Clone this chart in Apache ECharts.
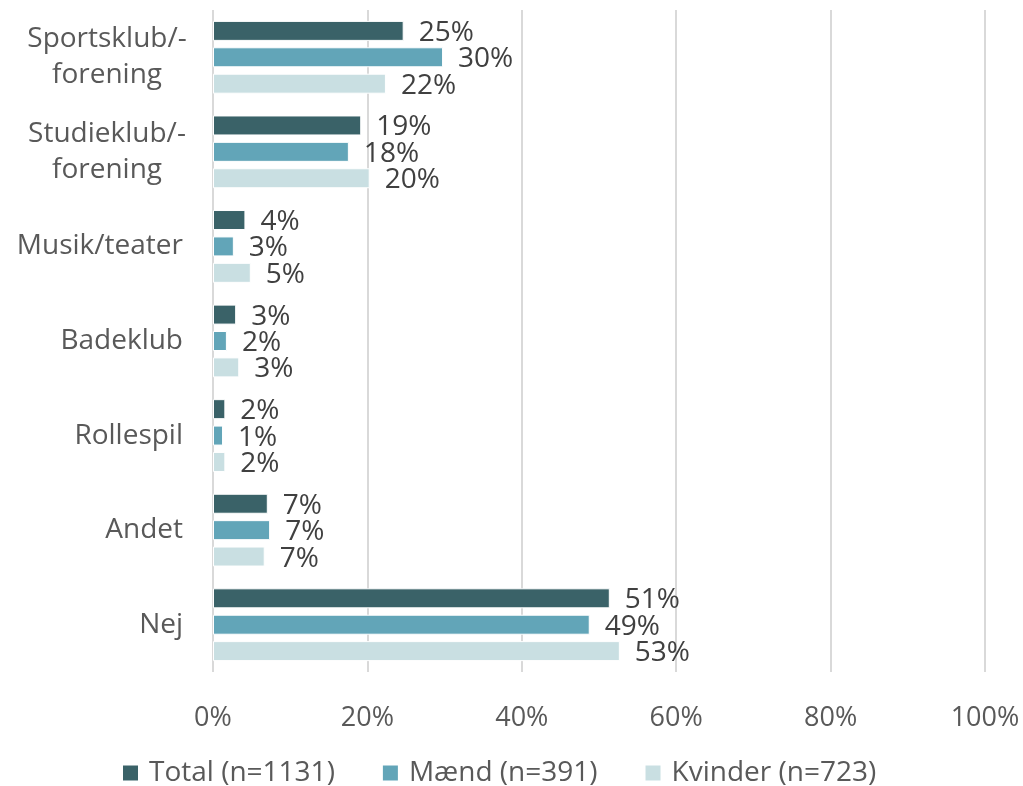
<!DOCTYPE html>
<html>
<head>
<meta charset="utf-8">
<script src="https://cdn.jsdelivr.net/npm/echarts@6/dist/echarts.min.js"></script>
<style>
  html, body { margin: 0; padding: 0; background: #fff; }
  #chart { width: 1023px; height: 786px; }
</style>
</head>
<body>
<div id="chart"></div>
<script>
// kategorier, oppefra og ned
const categories = ['Sportsklub/-\nforening', 'Studieklub/-\nforening', 'Musik/teater', 'Badeklub', 'Rollespil', 'Andet', 'Nej']
const seriesNames = ['Total (n=1131)', 'Mænd (n=391)', 'Kvinder (n=723)']
const total = [24.7, 19.2, 4.2, 3.0, 1.6, 7.1, 51.4]
const maend = [29.8, 17.6, 2.7, 1.8, 1.3, 7.4, 48.8]
const kvinder = [22.4, 20.3, 4.9, 3.4, 1.6, 6.7, 52.7]
const colors = ['#3a6268', '#62a5b8', '#c9dfe2']

const font = 'Open Sans'
const chart = echarts.init(document.getElementById('chart'))

const mkSeries = (name, data, color) => ({
  name,
  type: 'bar',
  data,
  barWidth: 20,
  barGap: '32%',
  itemStyle: { color, borderColor: '#fff', borderWidth: 1 },
  label: {
    show: true,
    position: 'right',
    distance: 15,
    offset: [0, 2],
    color: '#404040',
    fontFamily: font,
    fontSize: 28,
    formatter: p => Math.round(p.value) + '%'
  }
})

chart.setOption({
  animation: false,
  color: colors,
  grid: { left: 213, right: 38, top: 10, bottom: 114 },
  legend: {
    top: 754,
    left: 116,
    itemWidth: 17,
    itemHeight: 17,
    itemGap: 46,
    icon: 'rect',
    textStyle: { color: '#595959', fontFamily: font, fontSize: 28, padding: [0, 0, 0, 5] },
    data: seriesNames
  },
  xAxis: {
    type: 'value',
    min: 0,
    max: 100,
    interval: 20,
    axisLine: { show: false },
    axisTick: { show: false },
    splitLine: { lineStyle: { color: '#d9d9d9', width: 2 } },
    axisLabel: {
      formatter: '{value}%',
      color: '#595959',
      fontFamily: font,
      fontSize: 27,
      margin: 33
    }
  },
  yAxis: {
    type: 'category',
    data: categories,
    inverse: true,
    axisLine: { show: false },
    axisTick: { show: false },
    axisLabel: {
      align: 'right',
      margin: 20,
      formatter: v => {
        const lines = v.split('\n')
        if (lines.length === 1) return '{s|' + v + '}'
        return lines.map(l => '{m|' + l + '}').join('\n')
      },
      rich: {
        s: {
          color: '#595959', fontFamily: font, fontSize: 28,
          padding: [0, 10, 0, 0]
        },
        m: {
          color: '#595959', fontFamily: font, fontSize: 28,
          lineHeight: 36, width: 172, align: 'center'
        }
      }
    }
  },
  series: [
    mkSeries(seriesNames[0], total, colors[0]),
    mkSeries(seriesNames[1], maend, colors[1]),
    mkSeries(seriesNames[2], kvinder, colors[2])
  ]
})
</script>
</body>
</html>
